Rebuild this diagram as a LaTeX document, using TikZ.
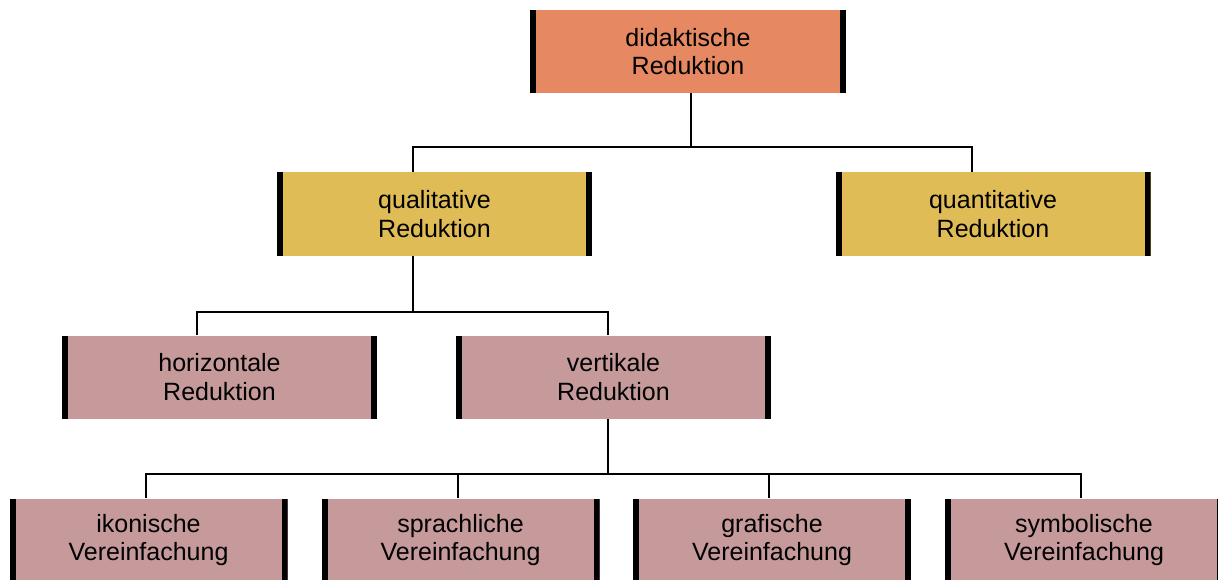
\documentclass[tikz,border=0pt]{standalone}
\usepackage{fontspec}
\setmainfont{Liberation Sans}
\definecolor{redfill}{RGB}{230,137,98}
\definecolor{goldfill}{RGB}{223,188,86}
\definecolor{rosefill}{RGB}{198,154,154}
\begin{document}
\begin{tikzpicture}[x=0.5pt,y=-0.5pt,
	reductbox/.style={minimum width=157.5pt,minimum height=41.5pt,inner sep=0pt,align=center,
		font=\fontsize{12.5}{14.25}\selectfont,
		path picture={
			\fill[black] (path picture bounding box.north west) rectangle ([xshift=3pt]path picture bounding box.south west);
			\fill[black] (path picture bounding box.north east) rectangle ([xshift=-3pt]path picture bounding box.south east);}},
	leafbox/.style={reductbox,fill=rosefill,minimum width=139pt},
	link/.style={line width=0.7pt}]
\useasboundingbox (0,0) rectangle (1218,579);
\node[reductbox,fill=redfill,minimum width=158pt] (dr) at (688,51.5) {didaktische\\Reduktion};
\node[reductbox,fill=goldfill,minimum height=42pt] (ql) at (434.5,214) {qualitative\\Reduktion};
\node[reductbox,fill=goldfill,minimum height=42pt] (qn) at (993,214) {quantitative\\Reduktion};
\node[reductbox,fill=rosefill] (hr) at (219.5,377) {horizontale\\Reduktion};
\node[reductbox,fill=rosefill] (vr) at (613.5,377) {vertikale\\Reduktion};
\foreach \n/\x/\t in {ik/148.5/ikonische,sp/460.5/sprachliche,gr/772/grafische,sy/1084/symbolische}
	\node[leafbox] (\n) at (\x,540) {\t\\Vereinfachung};

\coordinate (bus1) at (691,147);
\draw[link] (dr.south -| bus1) -- (bus1);
\draw[link] ([xshift=-10.75pt]ql.north) |- (bus1) -| ([xshift=-10.5pt]qn.north);

\coordinate (bus2) at (413,312);
\draw[link] ([xshift=-10.75pt]ql.south) -- (bus2);
\draw[link] ([xshift=-11.25pt]hr.north) |- (bus2) -| ([xshift=-2.75pt]vr.north);

\coordinate (bus3) at (608,474);
\draw[link,line width=1.4pt] ([xshift=-2.75pt]vr.south) -- (bus3);
\foreach \n/\s in {ik/-1.25,sp/-1.25,gr/-1.5,sy/-1.5}
	\coordinate (\n-in) at ([xshift=\s pt]\n.north);
\draw[link] (ik-in) |- (bus3) -| (sy-in);
\draw[link] (sp-in) -- (sp-in |- bus3);
\draw[link] (gr-in) -- (gr-in |- bus3);
\end{tikzpicture}
\end{document}
